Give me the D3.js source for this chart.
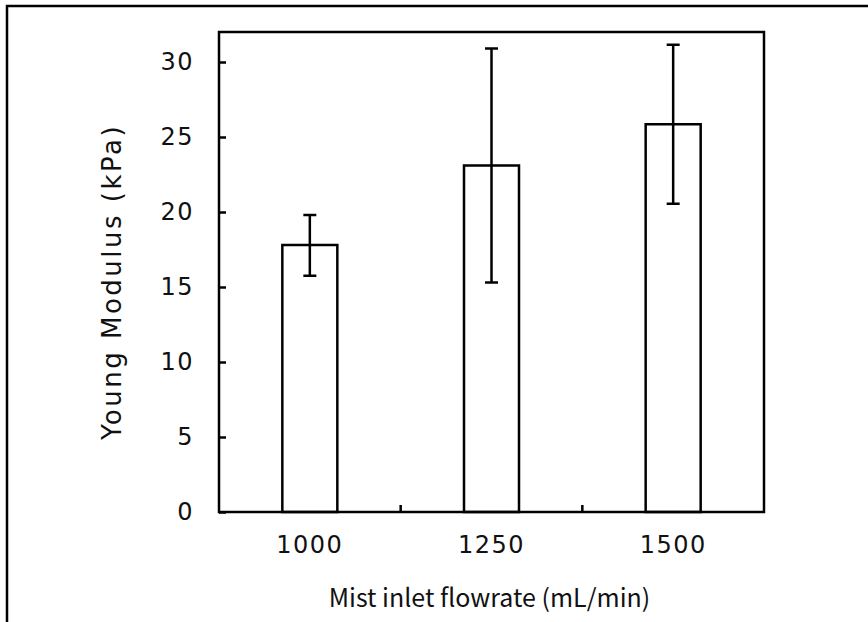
<!DOCTYPE html>
<html>
<head>
<meta charset="utf-8">
<script src="https://cdn.jsdelivr.net/npm/d3@7"></script>
<style>
  body { margin: 0; background: #fff; }
  svg { display: block; }
  text { font-family: "DejaVu Sans", sans-serif; fill: #111; }
  .xtitle { font-family: "Noto Sans CJK JP", "Noto Sans", sans-serif; }
</style>
</head>
<body>
<svg></svg>
<script>
'use strict';
// data
var flowrates = ['1000', '1250', '1500'];
var modulus = [17.8, 23.1, 25.85];
var errUp = [2.0, 7.8, 5.3];
var errDown = [2.05, 7.8, 5.3];
var yTicks = [0, 5, 10, 15, 20, 25, 30];

var canvasWidth = 868;
var canvasHeight = 622;
var margin = { top: 32, right: 104, bottom: 110, left: 219 };
var width = canvasWidth - margin.left - margin.right;
var height = canvasHeight - margin.top - margin.bottom;

var svg = d3.select('svg')
  .attr('width', canvasWidth)
  .attr('height', canvasHeight);

// outer frame (top + left edges only)
svg.append('path')
  .attr('d', 'M7,' + canvasHeight + 'V6H' + canvasWidth)
  .attr('fill', 'none')
  .attr('stroke', '#000')
  .attr('stroke-width', 2.5);

var g = svg.append('g')
  .attr('transform', 'translate(' + margin.left + ',' + margin.top + ')');

var xScale = d3.scaleBand().domain(flowrates).range([0, width]);
var yScale = d3.scaleLinear().domain([0, 32]).range([height, 0]);
var barW = 55;

// bars
g.selectAll('rect.bar').data(flowrates).enter().append('rect')
  .attr('class', 'bar')
  .attr('x', function(d) { return xScale(d) + xScale.bandwidth() / 2 - barW / 2; })
  .attr('y', function(d, i) { return yScale(modulus[i]); })
  .attr('width', barW)
  .attr('height', function(d, i) { return height - yScale(modulus[i]); })
  .attr('fill', '#fff')
  .attr('stroke', '#000')
  .attr('stroke-width', 2.5);

// error bars
var capW = 13;
var eb = g.selectAll('g.err').data(flowrates).enter().append('g')
  .attr('class', 'err')
  .attr('transform', function(d) { return 'translate(' + (xScale(d) + xScale.bandwidth() / 2) + ',0)'; });
eb.append('line')
  .attr('y1', function(d, i) { return yScale(modulus[i] + errUp[i]); })
  .attr('y2', function(d, i) { return yScale(modulus[i] - errDown[i]); });
eb.append('line')
  .attr('x1', -capW / 2).attr('x2', capW / 2)
  .attr('y1', function(d, i) { return yScale(modulus[i] + errUp[i]); })
  .attr('y2', function(d, i) { return yScale(modulus[i] + errUp[i]); });
eb.append('line')
  .attr('x1', -capW / 2).attr('x2', capW / 2)
  .attr('y1', function(d, i) { return yScale(modulus[i] - errDown[i]); })
  .attr('y2', function(d, i) { return yScale(modulus[i] - errDown[i]); });
eb.selectAll('line').attr('stroke', '#000').attr('stroke-width', 2.5);

// plot frame
g.append('rect')
  .attr('width', width)
  .attr('height', height)
  .attr('fill', 'none')
  .attr('stroke', '#000')
  .attr('stroke-width', 2.5);

// y axis, ticks pointing inward
var yAxis = g.append('g')
  .call(d3.axisLeft(yScale).tickValues(yTicks).tickSize(-7).tickPadding(25));
yAxis.select('.domain').remove();
yAxis.selectAll('line').attr('stroke-width', 2.5);
yAxis.selectAll('text')
  .style('font-size', '24px')
  .style('letter-spacing', '1.5px')
  .attr('fill', '#111');

// x axis: labels under bars, ticks on band boundaries
var xAxis = g.append('g')
  .attr('transform', 'translate(0,' + height + ')')
  .call(d3.axisBottom(xScale).tickSize(0).tickPadding(24));
xAxis.select('.domain').remove();
xAxis.selectAll('text')
  .style('font-size', '24px')
  .style('letter-spacing', '1.5px')
  .attr('fill', '#111');

g.selectAll('line.xtick').data(flowrates.slice(1)).enter().append('line')
  .attr('class', 'xtick')
  .attr('x1', function(d) { return xScale(d); })
  .attr('x2', function(d) { return xScale(d); })
  .attr('y1', height)
  .attr('y2', height - 7)
  .attr('stroke', '#000')
  .attr('stroke-width', 2.5);

// axis titles
svg.append('text')
  .attr('class', 'xtitle')
  .attr('x', margin.left + width / 2 - 2)
  .attr('y', 607)
  .attr('text-anchor', 'middle')
  .style('font-size', '25px')
  .text('Mist inlet flowrate (mL/min)');

svg.append('text')
  .attr('transform', 'translate(121,' + 282 + ') rotate(-90)')
  .attr('text-anchor', 'middle')
  .style('font-size', '26px')
  .style('letter-spacing', '2.5px')
  .text('Young Modulus (kPa)');
</script>
</body>
</html>
